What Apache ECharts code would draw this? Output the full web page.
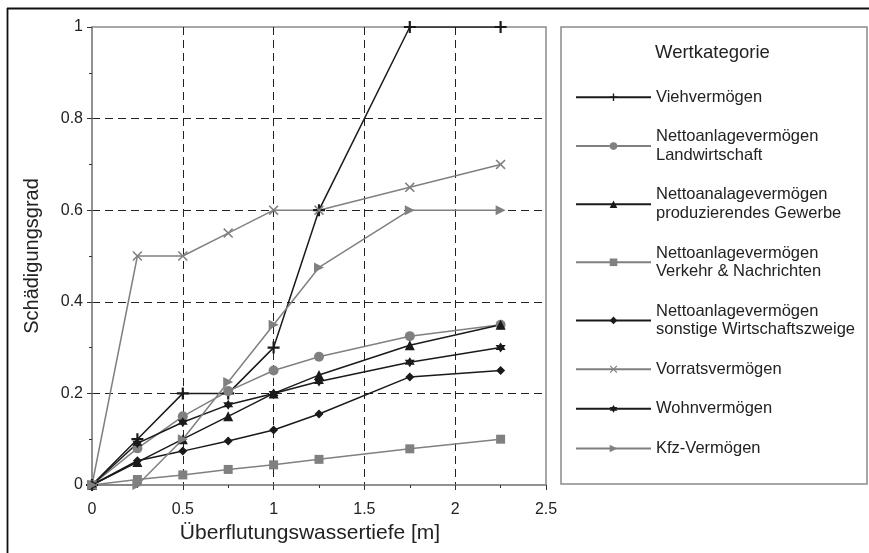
<!DOCTYPE html>
<html>
<head>
<meta charset="utf-8">
<script src="https://cdn.jsdelivr.net/npm/echarts@6/dist/echarts.min.js"></script>
<style>
html,body{margin:0;padding:0;background:#fff;}
#chart{width:869px;height:553px;}
</style>
</head>
<body>
<div id="chart"></div>
<script>
// ---- data ----
var depths = [0, 0.25, 0.5, 0.75, 1, 1.25, 1.75, 2.25];
var seriesNames = [
  'Viehvermögen',
  'Nettoanlagevermögen\nLandwirtschaft',
  'Nettoanalagevermögen\nproduzierendes Gewerbe',
  'Nettoanlagevermögen\nVerkehr & Nachrichten',
  'Nettoanlagevermögen\nsonstige Wirtschaftszweige',
  'Vorratsvermögen',
  'Wohnvermögen',
  'Kfz-Vermögen'
];
var vieh         = [0, 0.10, 0.20, 0.20, 0.30, 0.60, 1.00, 1.00];
var landwirt     = [0, 0.08, 0.15, 0.205, 0.25, 0.28, 0.325, 0.35];
var produz       = [0, 0.05, 0.10, 0.15, 0.20, 0.24, 0.305, 0.35];
var verkehr      = [0, 0.012, 0.022, 0.034, 0.044, 0.056, 0.079, 0.10];
var sonstige     = [0, 0.053, 0.074, 0.096, 0.12, 0.155, 0.236, 0.25];
var vorrat       = [0, 0.50, 0.50, 0.55, 0.60, 0.60, 0.65, 0.70];
var wohn         = [0, 0.091, 0.137, 0.175, 0.20, 0.226, 0.268, 0.30];
var kfz          = [0, 0.00, 0.10, 0.225, 0.35, 0.475, 0.60, 0.60];
var xTicks = [0, 0.5, 1, 1.5, 2, 2.5];
var yTicks = [0, 0.2, 0.4, 0.6, 0.8, 1];

// ---- styles ----
var BLACK = '#1a1a1a', GRAY = '#808080';
var FONT = '"Liberation Sans", Arial, Helvetica, sans-serif';
var PLUS = 'path://M4.1,0 H5.9 V4.1 H10 V5.9 H5.9 V10 H4.1 V5.9 H0 V4.1 H4.1 Z';
var CROSS = 'path://M0,1.1 L1.1,0 L5,3.9 L8.9,0 L10,1.1 L6.1,5 L10,8.9 L8.9,10 L5,6.1 L1.1,10 L0,8.9 L3.9,5 Z';
var STAR = 'path://M5,0 L6.445,2.5 L9.33,2.5 L7.89,5 L9.33,7.5 L6.445,7.5 L5,10 L3.555,7.5 L0.67,7.5 L2.11,5 L0.67,2.5 L3.555,2.5 Z';
var RTRI = 'path://M0,0 L10,5 L0,10 Z';

var specs = [
  {vals: vieh,     color: BLACK, symbol: PLUS,      size: 12},
  {vals: landwirt, color: GRAY,  symbol: 'circle',  size: 10},
  {vals: produz,   color: BLACK, symbol: 'triangle',size: 10},
  {vals: verkehr,  color: GRAY,  symbol: 'rect',    size: 9},
  {vals: sonstige, color: BLACK, symbol: 'diamond', size: 9},
  {vals: vorrat,   color: GRAY,  symbol: CROSS,     size: 10},
  {vals: wohn,     color: BLACK, symbol: STAR,      size: 10},
  {vals: kfz,      color: GRAY,  symbol: RTRI,      size: 10}
];

var series = specs.map(function (s, i) {
  return {
    name: seriesNames[i],
    type: 'line',
    data: depths.map(function (d, j) { return [d, s.vals[j]]; }),
    symbol: s.symbol,
    symbolSize: s.size,
    showAllSymbol: true,
    lineStyle: {color: s.color, width: 1.5},
    itemStyle: {color: s.color},
    z: 3
  };
});

var chart = echarts.init(document.getElementById('chart'), null, {renderer: 'canvas'});
chart.setOption({
  animation: false,
  backgroundColor: '#fff',
  textStyle: {fontFamily: FONT},
  grid: {left: 92, right: 323, top: 27, bottom: 68, show: true, borderColor: '#8a8a8a', borderWidth: 1.5, backgroundColor: 'transparent'},
  xAxis: {
    type: 'value', min: xTicks[0], max: xTicks[xTicks.length - 1], interval: 0.5,
    name: 'Überflutungswassertiefe [m]', nameLocation: 'middle', nameGap: 38,
    nameTextStyle: {fontSize: 21, color: '#222', fontFamily: FONT, padding: [0, 18, 0, 0]},
    axisLine: {show: true, lineStyle: {color: '#8a8a8a', width: 1.5}},
    axisTick: {show: true, length: 5, lineStyle: {color: '#333', width: 1}},
    minorTick: {show: true, splitNumber: 2, length: 3, lineStyle: {color: '#333', width: 1}},
    axisLabel: {fontSize: 16, color: '#222', margin: 17, fontFamily: FONT},
    splitLine: {show: true, showMinLine: false, showMaxLine: false, lineStyle: {color: '#222', width: 1, type: [8, 5]}}
  },
  yAxis: {
    type: 'value', min: yTicks[0], max: yTicks[yTicks.length - 1], interval: 0.2,
    name: 'Schädigungsgrad', nameLocation: 'middle', nameGap: 50,
    nameTextStyle: {fontSize: 20, color: '#222', fontFamily: FONT},
    axisLine: {show: true, lineStyle: {color: '#8a8a8a', width: 1.5}},
    axisTick: {show: true, length: 5, lineStyle: {color: '#333', width: 1}},
    minorTick: {show: true, splitNumber: 2, length: 3, lineStyle: {color: '#333', width: 1}},
    axisLabel: {fontSize: 16, color: '#222', margin: 9, fontFamily: FONT},
    splitLine: {show: true, showMinLine: false, showMaxLine: false, lineStyle: {color: '#222', width: 1, type: [8, 5]}}
  },
  legend: {
    orient: 'vertical', left: 575, top: 88, padding: 0,
    itemWidth: 75, itemHeight: 9.5, itemGap: 21.1,
    textStyle: {fontSize: 16.5, lineHeight: 18.5, color: '#222', fontFamily: FONT},
    data: seriesNames
  },
  graphic: [
    {type: 'line', shape: {x1: 7, y1: 8.5, x2: 869, y2: 8.5}, style: {stroke: '#111', lineWidth: 1.8}, silent: true},
    {type: 'line', shape: {x1: 7.5, y1: 8, x2: 7.5, y2: 553}, style: {stroke: '#111', lineWidth: 1.8}, silent: true},
    {type: 'rect', shape: {x: 561, y: 27, width: 306, height: 457}, style: {fill: 'transparent', stroke: '#8a8a8a', lineWidth: 1.5}, silent: true, z: -1},
    {type: 'text', left: 655, top: 43, style: {text: 'Wertkategorie', fontSize: 18.5, fill: '#222', fontFamily: FONT}, silent: true}
  ],
  series: series
});
</script>
</body>
</html>
